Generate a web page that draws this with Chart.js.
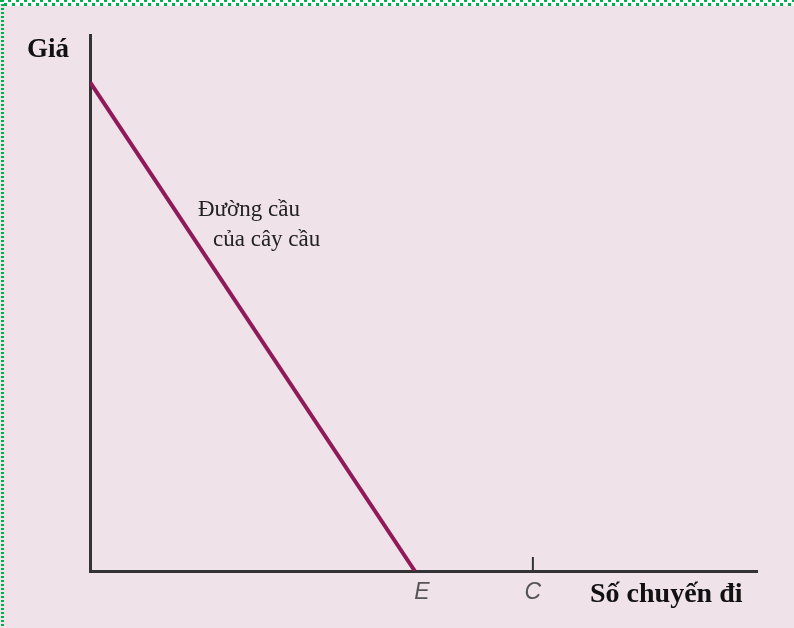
<!DOCTYPE html>
<html>
<head>
<meta charset="utf-8">
<script src="https://cdn.jsdelivr.net/npm/chart.js@4"></script>
<style>
  html, body { margin: 0; padding: 0; background: #f0e2e9; }
  #wrap { position: relative; width: 794px; height: 628px; }
  #topB { position: absolute; left: 0; top: 0; width: 794px; height: 6px; background-color: #fff;
    background-image: linear-gradient(90deg, #00b050 3px, transparent 3px), linear-gradient(90deg, transparent 4px, #00b050 4px, #00b050 7px, transparent 7px);
    background-size: 8px 2px, 8px 3px; background-position: 0 0, 0 3px; background-repeat: repeat-x; }
  #leftB { position: absolute; left: 0; top: 0; width: 4px; height: 628px;
    background-image: linear-gradient(180deg, #00b050 2px, transparent 2px);
    background-size: 3px 4px; background-position: 1px 0; background-repeat: repeat-y; }
</style>
</head>
<body>
<div id="wrap">
  <canvas id="c" width="794" height="628"></canvas>
  <div id="topB"></div>
  <div id="leftB"></div>
</div>
<script>
// Data
const demandX = [0, 48.7];          // quantity (trips)
const demandY = [91.2, 0];          // price
const tickValues = [48.7, 66.4];    // E, C positions on x axis
const tickLabels = ['E', 'C'];
const yAxisTitle = 'Giá';
const xAxisTitle = 'Số chuyến đi';
const curveLabel = ['Đường cầu', 'của cây cầu'];

const points = demandX.map((x, i) => ({ x: x, y: demandY[i] }));

const annot = {
  id: 'annot',
  afterDraw(chart) {
    const ctx = chart.ctx;
    const xs = chart.scales.x, ys = chart.scales.y;
    ctx.save();
    // tick mark at C
    const cx = xs.getPixelForValue(tickValues[1]);
    ctx.strokeStyle = '#333';
    ctx.lineWidth = 2;
    ctx.beginPath();
    ctx.moveTo(cx, ys.bottom);
    ctx.lineTo(cx, ys.bottom - 14);
    ctx.stroke();
    // tick labels
    ctx.fillStyle = '#555';
    ctx.font = 'italic 23px "Liberation Sans Narrow", "Liberation Sans", sans-serif';
    ctx.textAlign = 'center';
    ctx.textBaseline = 'middle';
    tickValues.forEach((v, i) => {
      const px = xs.getPixelForValue(v) + (i === 0 ? 7 : 0);
      ctx.fillText(tickLabels[i], px, ys.bottom + 22);
    });
    // axis titles
    ctx.fillStyle = '#111';
    ctx.textAlign = 'left';
    ctx.font = 'bold 27px "Liberation Serif", "Times New Roman", serif';
    ctx.fillText(yAxisTitle, 27, 50);
    ctx.font = 'bold 28px "Liberation Serif", "Times New Roman", serif';
    ctx.fillText(xAxisTitle, 590, ys.bottom + 24);
    // curve label
    ctx.fillStyle = '#222';
    ctx.font = '23px "Liberation Serif", "Times New Roman", serif';
    ctx.fillText(curveLabel[0], 198, 210);
    ctx.fillText(curveLabel[1], 213, 240);
    ctx.restore();
  }
};

new Chart(document.getElementById('c'), {
  type: 'scatter',
  data: {
    datasets: [{
      data: points,
      showLine: true,
      borderColor: '#8e1a5a',
      borderWidth: 4,
      pointRadius: 0,
      fill: false
    }]
  },
  options: {
    responsive: false,
    animation: false,
    layout: { padding: { left: 90, top: 35, right: 37, bottom: 57 } },
    plugins: { legend: { display: false }, tooltip: { enabled: false } },
    scales: {
      x: {
        type: 'linear', min: 0, max: 100,
        grid: { display: false, drawTicks: false },
        ticks: { display: false },
        border: { display: true, color: '#333', width: 3 }
      },
      y: {
        type: 'linear', min: 0, max: 100,
        grid: { display: false, drawTicks: false },
        ticks: { display: false },
        border: { display: true, color: '#333', width: 3 }
      }
    }
  },
  plugins: [annot]
});
</script>
</body>
</html>
